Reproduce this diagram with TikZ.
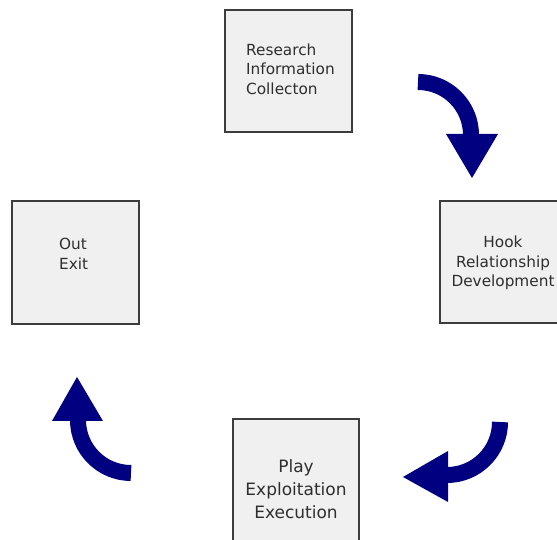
\documentclass[tikz,border=0pt]{standalone}
\usepackage{fontspec}
\setmainfont{DejaVu Sans}
\definecolor{boxfill}{HTML}{F0F0F0}
\definecolor{boxline}{HTML}{3C3C3C}
\definecolor{txt}{HTML}{2E2E2E}
\definecolor{navy}{HTML}{000080}
\begin{document}
\begin{tikzpicture}[x=1pt,y=1pt,
  stagebox/.style={draw=boxline,line width=1.6pt,fill=boxfill},
  stagetext/.style={text=txt,inner sep=0pt,font=\fontsize{15.3}{19.5}\selectfont},
  band/.style={draw=navy,line width=16pt},
  head/.style={fill=navy,draw=none}]
\useasboundingbox (0,0) rectangle (557,540);
% boxes
\draw[stagebox] (225,408) rectangle (352,530);
\draw[stagebox] (440,217) rectangle (566,339);
\draw[stagebox] (12,216) rectangle (139,339);
\draw[stagebox] (233,-6) rectangle (359,121);
% texts
\node[stagetext,anchor=west,align=left] (research) at (246,471) {Research\\Information\\Collecton};
\node[stagetext,align=center] (hook) at (503,277) {Hook\\Relationship\\Development};
\node[stagetext,anchor=west,align=left] (out) at (59,286) {Out\\Exit};
\node[stagetext,align=center,font=\fontsize{17}{23}\selectfont] (play) at (296,51) {Play\\Exploitation\\Execution};
% arrow 1 (top right)
\coordinate (a1s) at (418,458);
\draw[band] (a1s) arc[start angle=90,end angle=0,radius=53] coordinate (a1e);
\fill[head] (446,406) -- (498,406) -- (472,362) -- cycle;
% arrow 2 (bottom right)
\coordinate (a2s) at (500,118);
\draw[band] (a2s) arc[start angle=0,end angle=-90,radius=53] coordinate (a2e);
\fill[head] (448,89) -- (448,38) -- (403,63) -- cycle;
% arrow 3 (bottom left)
\coordinate (a3s) at (131,67);
\draw[band] (a3s) arc[start angle=-90,end angle=-180,radius=53] coordinate (a3e);
\fill[head] (52,119) -- (103,119) -- (77,163) -- cycle;
\end{tikzpicture}
\end{document}
